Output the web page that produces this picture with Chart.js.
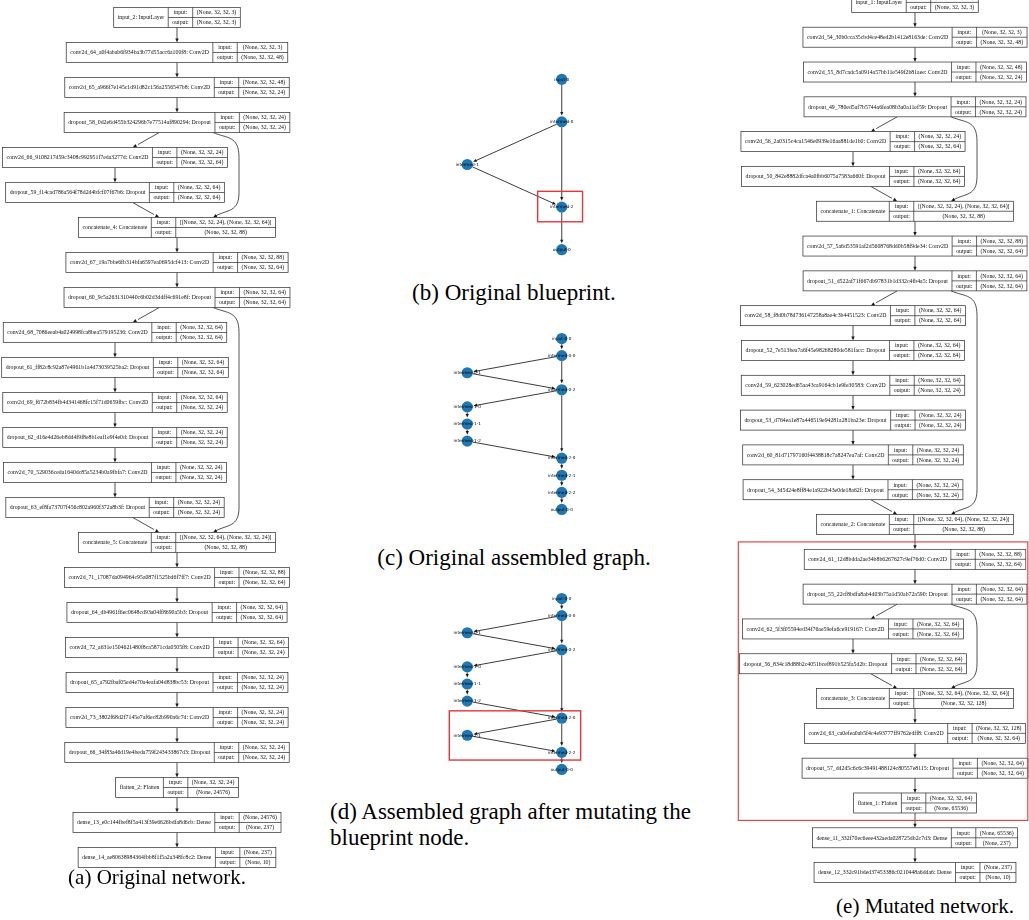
<!DOCTYPE html>
<html>
<head>
<meta charset="utf-8">
<title>Blueprint mutation</title>
<script src="https://cdn.jsdelivr.net/npm/chart.js@4.4.1/dist/chart.umd.min.js"></script>
<style>
  html, body { margin: 0; padding: 0; background: #fff; }
  body { width: 1029px; height: 920px; position: relative; overflow: hidden; }
  canvas { position: absolute; }
  .cap { position: absolute; font-family: "Liberation Serif", "Times New Roman", serif; font-size: 23px;
         color: #000; white-space: nowrap; line-height: 26px; }
  .side { font-size: 21px; }
  .mid { transform: translate(-50%, -50%); }
</style>
</head>
<body>
<canvas id="netA" width="300" height="875" style="left:0;top:0"></canvas>
<canvas id="graphB" width="189" height="213" style="left:420px;top:58px"></canvas>
<canvas id="graphC" width="189" height="188" style="left:420px;top:330px"></canvas>
<canvas id="graphD" width="189" height="188" style="left:420px;top:590px"></canvas>
<canvas id="netE" width="294" height="905" style="left:735px;top:-15px"></canvas>

<div class="cap side mid" style="left:157px;top:877px">(a) Original network.</div>
<div class="cap mid" style="left:514px;top:293px">(b) Original blueprint.</div>
<div class="cap mid" style="left:514px;top:558px">(c) Original assembled graph.</div>
<div class="cap" style="left:330px;top:799px">(d) Assembled graph after mutating the<br>blueprint node.</div>
<div class="cap side mid" style="left:925px;top:906px">(e) Mutated network.</div>

<script>
// ---------- (a) original network: layers, shapes, column (0 = main, -1 = branch) ----------
const origNames = [
  'input_2: InputLayer',
  'conv2d_64_a0f4abab6f934ba3b77d55acc6a100f8: Conv2D',
  'conv2d_65_a966f7e145c1d91d82c156a2556547b8: Conv2D',
  'dropout_58_0d2e6d455b324296b7e77514af890294: Dropout',
  'conv2d_66_9108217d59c3408c992951f7eda3277d: Conv2D',
  'dropout_59_f14cad786a564f78d2d4bfcf07f67b6: Dropout',
  'concatenate_4: Concatenate',
  'conv2d_67_19a7bbe6fb314bfa6597ea0695dcf413: Conv2D',
  'dropout_60_9c5a2631310440c6b02d3ddff4c691e8f: Dropout',
  'conv2d_68_7086eeab4a024998fca8bea579195236: Conv2D',
  'dropout_61_ff82c8c92a87e4961b1a4d73039525ba2: Dropout',
  'conv2d_69_f672b834fb4d341468fc15f71d0659fbc: Conv2D',
  'dropout_62_d16e4d26eb8dd4f9f8e8b1eaf1e9f4e0d: Dropout',
  'conv2d_70_529036ceda1640dc85a5234b0a9fbfa7: Conv2D',
  'dropout_63_ef8fa73707f456c802a960f372a8b3f: Dropout',
  'concatenate_5: Concatenate',
  'conv2d_71_17087da094964c95a087f1525bd6f7ff7: Conv2D',
  'dropout_64_db4961f6ec0648cd93a04ff8690a5b3: Dropout',
  'conv2d_72_a631e1504621480f8ca5871cda0505f8: Conv2D',
  'dropout_65_a792fbaf05ed4e70a4eafa04d838bc53: Dropout',
  'conv2d_73_3802f68d2f7145e7af6ec82b990a6c7d: Conv2D',
  'dropout_66_34f83a46d19e4beda759f243433867d3: Dropout',
  'flatten_2: Flatten',
  'dense_13_e0c144fbef8f5a413f39e6626bdfa8d6cb: Dense',
  'dense_14_ae80638984364fbb8f1f5a2a348fc8c2: Dense'
];
const origInputs = [
  '(None, 32, 32, 3)', '(None, 32, 32, 3)', '(None, 32, 32, 48)', '(None, 32, 32, 24)',
  '(None, 32, 32, 24)', '(None, 32, 32, 64)', '[(None, 32, 32, 24), (None, 32, 32, 64)]',
  '(None, 32, 32, 88)', '(None, 32, 32, 64)', '(None, 32, 32, 64)', '(None, 32, 32, 64)',
  '(None, 32, 32, 64)', '(None, 32, 32, 24)', '(None, 32, 32, 24)', '(None, 32, 32, 24)',
  '[(None, 32, 32, 64), (None, 32, 32, 24)]', '(None, 32, 32, 88)', '(None, 32, 32, 64)',
  '(None, 32, 32, 64)', '(None, 32, 32, 24)', '(None, 32, 32, 24)', '(None, 32, 32, 24)',
  '(None, 32, 32, 24)', '(None, 24576)', '(None, 237)'
];
const origOutputs = [
  '(None, 32, 32, 3)', '(None, 32, 32, 48)', '(None, 32, 32, 24)', '(None, 32, 32, 24)',
  '(None, 32, 32, 64)', '(None, 32, 32, 64)', '(None, 32, 32, 88)',
  '(None, 32, 32, 64)', '(None, 32, 32, 64)', '(None, 32, 32, 64)', '(None, 32, 32, 64)',
  '(None, 32, 32, 24)', '(None, 32, 32, 24)', '(None, 32, 32, 24)', '(None, 32, 32, 24)',
  '(None, 32, 32, 88)', '(None, 32, 32, 64)', '(None, 32, 32, 64)',
  '(None, 32, 32, 24)', '(None, 32, 32, 24)', '(None, 32, 32, 24)', '(None, 32, 32, 24)',
  '(None, 24576)', '(None, 237)', '(None, 10)'
];
const origColumn = [0,0,0,0,-1,-1,0,0,0,-1,-1,-1,-1,-1,-1,0,0,0,0,0,0,0,0,0,0];
const origSkips = [[3, 6], [8, 15]];

// ---------- (e) mutated network ----------
const mutNames = [
  'input_1: InputLayer',
  'conv2d_54_30b0cca35cbd4ce48ed2b1412e8163de: Conv2D',
  'conv2d_55_8d7cadc5a0914a57bb11e549f2b81aee: Conv2D',
  'dropout_49_780ed5af7b5744a6fea08b3a0a11ef59: Dropout',
  'conv2d_56_2a0315c4ca1546e0939e16aa881de1b0: Conv2D',
  'dropout_50_842e8882dfca4a0fbb6075a7583a660f: Dropout',
  'concatenate_1: Concatenate',
  'conv2d_57_5a6d53591af2d5608768dd0b58f9de34: Conv2D',
  'dropout_51_d522af71f667db97831b1d332c4fb4a5: Dropout',
  'conv2d_58_f8d0b78d736147258a8ae4c3b4451523: Conv2D',
  'dropout_52_7e513bea7a6f45e98268280de581facc: Dropout',
  'conv2d_59_623028ed65aa43ca9164cb1e9fe30583: Conv2D',
  'dropout_53_d764ea1e87a446519e94281a281ba23e: Dropout',
  'conv2d_60_81d71797160f4438818c7a8247ea7af: Conv2D',
  'dropout_54_3d5d24e8ff84e1a922b43e0de18a62f: Dropout',
  'concatenate_2: Concatenate',
  'conv2d_61_12d8bdda2ae34b8b6267627c9ef76d0: Conv2D',
  'dropout_55_22cf8bdfa8ab4d03b75a1d50ab72a590: Dropout',
  'conv2d_62_5f3f05594ed34f76ae59efa6ce919167: Conv2D',
  'dropout_56_834c18d88b2c4051bcef891b525fa5d2b: Dropout',
  'concatenate_3: Concatenate',
  'conv2d_63_ca0efea0ab5f4c4e93777ff9762edff8: Conv2D',
  'dropout_57_dd2d5c6c6c39491488124c80557e8115: Dropout',
  'flatten_1: Flatten',
  'dense_11_332f70ec6eee432aeda028725db2c7d3: Dense',
  'dense_12_332c91bded37453386c0210448a6dda6: Dense'
];
const mutInputs = [
  '(None, 32, 32, 3)', '(None, 32, 32, 3)', '(None, 32, 32, 48)', '(None, 32, 32, 24)',
  '(None, 32, 32, 24)', '(None, 32, 32, 64)', '[(None, 32, 32, 24), (None, 32, 32, 64)]',
  '(None, 32, 32, 88)', '(None, 32, 32, 64)', '(None, 32, 32, 64)', '(None, 32, 32, 64)',
  '(None, 32, 32, 64)', '(None, 32, 32, 24)', '(None, 32, 32, 24)', '(None, 32, 32, 24)',
  '[(None, 32, 32, 64), (None, 32, 32, 24)]', '(None, 32, 32, 88)', '(None, 32, 32, 64)',
  '(None, 32, 32, 64)', '(None, 32, 32, 64)', '[(None, 32, 32, 64), (None, 32, 32, 64)]',
  '(None, 32, 32, 128)', '(None, 32, 32, 64)', '(None, 32, 32, 64)', '(None, 65536)', '(None, 237)'
];
const mutOutputs = [
  '(None, 32, 32, 3)', '(None, 32, 32, 48)', '(None, 32, 32, 24)', '(None, 32, 32, 24)',
  '(None, 32, 32, 64)', '(None, 32, 32, 64)', '(None, 32, 32, 88)',
  '(None, 32, 32, 64)', '(None, 32, 32, 64)', '(None, 32, 32, 64)', '(None, 32, 32, 64)',
  '(None, 32, 32, 24)', '(None, 32, 32, 24)', '(None, 32, 32, 24)', '(None, 32, 32, 24)',
  '(None, 32, 32, 88)', '(None, 32, 32, 64)', '(None, 32, 32, 64)',
  '(None, 32, 32, 64)', '(None, 32, 32, 64)', '(None, 32, 32, 128)',
  '(None, 32, 32, 64)', '(None, 32, 32, 64)', '(None, 65536)', '(None, 237)', '(None, 10)'
];
const mutColumn = [0,0,0,0,-1,-1,0,0,0,-1,-1,-1,-1,-1,-1,0,0,0,-1,-1,0,0,0,0,0,0];
const mutSkips = [[3, 6], [8, 15], [17, 20]];
// layers replaced by the mutation (index range, box drawn around them)
const mutHighlightLayers = [15.5, 23.5];

// ---------- (b) blueprint graph ----------
const blueprintNodes = ['input-0', 'intermed-0', 'intermed-1', 'intermed-2', 'output-0'];
const blueprintCol   = [1, 1, 0, 1, 1];
const blueprintLevel = [0, 1, 2, 3, 4];
const blueprintEdges = [[0, 1], [1, 2], [1, 3], [2, 3], [3, 4]];

// ---------- (c) assembled graph ----------
const assembledNodes = ['input-0-0', 'intermed-0-0', 'intermed-0-1', 'intermed-0-2', 'intermed-1-0',
  'intermed-1-1', 'intermed-1-2', 'intermed-2-0', 'intermed-2-1', 'intermed-2-2', 'output-0-0'];
const assembledCol   = [1, 1, 0, 1, 0, 0, 0, 1, 1, 1, 1];
const assembledLevel = [0, 1, 2, 3, 4, 5, 6, 7, 8, 9, 10];
const assembledEdges = [[0,1],[1,2],[1,3],[2,3],[3,4],[3,7],[4,5],[5,6],[6,7],[7,8],[8,9],[9,10]];

// ---------- (d) assembled graph after mutation ----------
const mutatedGraphNodes = assembledNodes;
const mutatedGraphCol   = [1, 1, 0, 1, 0, 0, 0, 1, 0, 1, 1];
const mutatedGraphLevel = [0, 1, 2, 3, 4, 5, 6, 7, 8, 9, 10];
const mutatedGraphEdges = [[0,1],[1,2],[1,3],[2,3],[3,4],[3,7],[4,5],[5,6],[6,7],[7,8],[7,9],[8,9],[9,10]];

// ---------- shared drawing helpers ----------
const REC_FONT = '5.8px "Liberation Serif"';
const NODE_FONT = '4.2px "DejaVu Sans"';
const INK = '#1a1a1a';
const RED = '#e3363b';

function arrowHead(ctx, x, y, dx, dy, len, half) {
  const l = Math.hypot(dx, dy) || 1;
  const ux = dx / l, uy = dy / l;
  const bx = x - ux * len, by = y - uy * len;
  ctx.beginPath();
  ctx.moveTo(x, y);
  ctx.lineTo(bx - uy * half, by + ux * half);
  ctx.lineTo(bx + uy * half, by - ux * half);
  ctx.closePath();
  ctx.fill();
}

function baseOptions(xr, yr) {
  return {
    responsive: false,
    animation: false,
    events: [],
    layout: { padding: 0, autoPadding: false },
    plugins: { legend: { display: false }, tooltip: { enabled: false }, title: { display: false } },
    scales: {
      x: { type: 'linear', min: xr[0], max: xr[1], display: false },
      y: { type: 'linear', min: yr[0], max: yr[1], reverse: true, display: false }
    }
  };
}

// Keras-style layer diagram: each point is a record box (name | input/output | shapes)
function networkChart(id, spec) {
  const points = spec.column.map((c, i) => ({ x: c, y: i }));
  const records = {
    id: 'records',
    afterDatasetsDraw(chart) {
      const ctx = chart.ctx;
      const xs = chart.scales.x, ys = chart.scales.y;
      const pts = chart.getDatasetMeta(0).data;
      const H = 10, padN = 4, padL = 4, padV = 4;
      ctx.save();
      ctx.font = REC_FONT;
      const labW = ctx.measureText('output:').width + 2 * padL;
      const boxes = pts.map((p, i) => {
        const nW = ctx.measureText(spec.names[i]).width + 2 * padN;
        const vW = Math.max(ctx.measureText(spec.inputs[i]).width, ctx.measureText(spec.outputs[i]).width) + 2 * padV;
        const W = nW + labW + vW;
        return { cx: p.x, cy: p.y, left: p.x - W / 2, nW, vW, W };
      });

      // edges between consecutive layers
      ctx.strokeStyle = INK; ctx.fillStyle = INK; ctx.lineWidth = 0.75;
      for (let i = 0; i + 1 < boxes.length; i++) {
        const a = boxes[i], b = boxes[i + 1];
        const dy = b.cy - a.cy, dx = b.cx - a.cx;
        const x0 = a.cx + dx * (H / dy), y0 = a.cy + H;
        const x1 = a.cx + dx * ((dy - H) / dy), y1 = b.cy - H;
        ctx.beginPath(); ctx.moveTo(x0, y0); ctx.lineTo(x1 - (dx / dy) * 3, y1 - 3); ctx.stroke();
        arrowHead(ctx, x1, y1, x1 - x0, y1 - y0, 4, 1.7);
      }
      // skip connections curving around the right side
      const bulgeX = xs.getPixelForValue(1);
      spec.skips.forEach(([s, t]) => {
        const a = boxes[s], b = boxes[t];
        const sx = a.cx + 36, sy = a.cy + H;
        const ex = b.cx + 36, ey = b.cy - H;
        const yA = ys.getPixelForValue(s + 1), yB = ys.getPixelForValue(t - 1);
        ctx.beginPath();
        ctx.moveTo(sx, sy);
        ctx.bezierCurveTo(sx + 14, sy + 6, bulgeX, yA - 22, bulgeX, yA);
        if (yB > yA) ctx.lineTo(bulgeX, yB);
        ctx.bezierCurveTo(bulgeX, yB + 20, ex + 14, ey - 8, ex + 2.6, ey - 1.5);
        ctx.stroke();
        arrowHead(ctx, ex, ey, -14, 8, 4, 1.7);
      });

      // record boxes
      ctx.lineWidth = 0.7;
      ctx.textBaseline = 'middle';
      ctx.textAlign = 'center';
      boxes.forEach((b, i) => {
        const top = b.cy - H, L = b.left;
        ctx.fillStyle = '#fff';
        ctx.fillRect(L, top, b.W, 2 * H);
        ctx.strokeStyle = '#2a2a2a';
        ctx.strokeRect(L, top, b.W, 2 * H);
        ctx.beginPath();
        ctx.moveTo(L + b.nW, top); ctx.lineTo(L + b.nW, top + 2 * H);
        ctx.moveTo(L + b.nW + labW, top); ctx.lineTo(L + b.nW + labW, top + 2 * H);
        ctx.moveTo(L + b.nW, b.cy); ctx.lineTo(L + b.W, b.cy);
        ctx.stroke();
        ctx.fillStyle = '#111';
        ctx.fillText(spec.names[i], L + b.nW / 2, b.cy + 0.3);
        ctx.fillText('input:', L + b.nW + labW / 2, b.cy - H / 2 + 0.3);
        ctx.fillText('output:', L + b.nW + labW / 2, b.cy + H / 2 + 0.3);
        ctx.fillText(spec.inputs[i], L + b.nW + labW + b.vW / 2, b.cy - H / 2 + 0.3);
        ctx.fillText(spec.outputs[i], L + b.nW + labW + b.vW / 2, b.cy + H / 2 + 0.3);
      });

      if (spec.highlight) {
        const h = spec.highlight;
        const x0 = xs.getPixelForValue(h.x[0]), x1 = xs.getPixelForValue(h.x[1]);
        const y0 = ys.getPixelForValue(h.y[0]), y1 = ys.getPixelForValue(h.y[1]);
        ctx.strokeStyle = RED; ctx.lineWidth = 1.1;
        ctx.strokeRect(x0, y0, x1 - x0, y1 - y0);
      }
      ctx.restore();
    }
  };
  return new Chart(document.getElementById(id), {
    type: 'scatter',
    data: { datasets: [{ data: points, pointRadius: 0, pointHoverRadius: 0, borderWidth: 0 }] },
    options: baseOptions(spec.xRange, spec.yRange),
    plugins: [records]
  });
}

// networkx-style directed graph: blue nodes, arrowed edges, small labels
function graphChart(id, spec) {
  const points = spec.col.map((c, i) => ({ x: c, y: spec.level[i] }));
  const R = 5.6;
  const overlay = {
    id: 'graphOverlay',
    beforeDatasetsDraw(chart) {
      const ctx = chart.ctx;
      const pts = chart.getDatasetMeta(0).data;
      ctx.save();
      ctx.strokeStyle = INK; ctx.fillStyle = INK; ctx.lineWidth = 0.85;
      spec.edges.forEach(([s, t]) => {
        const a = pts[s], b = pts[t];
        const dx = b.x - a.x, dy = b.y - a.y, l = Math.hypot(dx, dy);
        const ux = dx / l, uy = dy / l;
        const x0 = a.x + ux * R, y0 = a.y + uy * R;
        const x1 = b.x - ux * (R + 0.8), y1 = b.y - uy * (R + 0.8);
        ctx.beginPath(); ctx.moveTo(x0, y0); ctx.lineTo(x1 - ux * 2.5, y1 - uy * 2.5); ctx.stroke();
        arrowHead(ctx, x1, y1, dx, dy, 3.6, 1.6);
      });
      ctx.restore();
    },
    afterDatasetsDraw(chart) {
      const ctx = chart.ctx;
      const pts = chart.getDatasetMeta(0).data;
      const xs = chart.scales.x, ys = chart.scales.y;
      ctx.save();
      ctx.font = NODE_FONT;
      ctx.fillStyle = '#000';
      ctx.textAlign = 'center';
      ctx.textBaseline = 'middle';
      pts.forEach((p, i) => ctx.fillText(spec.names[i], p.x, p.y + 0.2));
      if (spec.highlight) {
        const h = spec.highlight;
        const x0 = xs.getPixelForValue(h.x[0]), x1 = xs.getPixelForValue(h.x[1]);
        const y0 = ys.getPixelForValue(h.y[0]), y1 = ys.getPixelForValue(h.y[1]);
        ctx.strokeStyle = RED; ctx.lineWidth = 1.4;
        ctx.strokeRect(x0, y0, x1 - x0, y1 - y0);
      }
      ctx.restore();
    }
  };
  return new Chart(document.getElementById(id), {
    type: 'scatter',
    data: { datasets: [{ data: points, pointRadius: R, pointHoverRadius: R,
                         backgroundColor: '#1f77b4', borderWidth: 0 }] },
    options: baseOptions([-0.5, 1.5], spec.yRange),
    plugins: [overlay]
  });
}

networkChart('netA', {
  names: origNames, inputs: origInputs, outputs: origOutputs, column: origColumn, skips: origSkips,
  xRange: [-177 / 62, 123 / 62], yRange: [-0.5, 24.5]
});
networkChart('netE', {
  names: mutNames, inputs: mutInputs, outputs: mutOutputs, column: mutColumn, skips: mutSkips,
  xRange: [-180 / 62, 114 / 62], yRange: [-0.5, 25.5],
  highlight: { x: [-2.85, 1.82], y: mutHighlightLayers }
});
graphChart('graphB', {
  names: blueprintNodes, col: blueprintCol, level: blueprintLevel, edges: blueprintEdges,
  yRange: [-0.5, 4.5], highlight: { x: [0.745, 1.22], y: [2.63, 3.345] }
});
graphChart('graphC', {
  names: assembledNodes, col: assembledCol, level: assembledLevel, edges: assembledEdges,
  yRange: [-0.5, 10.5]
});
graphChart('graphD', {
  names: mutatedGraphNodes, col: mutatedGraphCol, level: mutatedGraphLevel, edges: mutatedGraphEdges,
  yRange: [-0.5, 10.5], highlight: { x: [-0.19, 1.2], y: [6.57, 9.45] }
});
</script>
</body>
</html>
